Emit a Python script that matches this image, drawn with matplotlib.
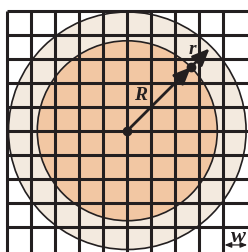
import numpy as np
import matplotlib.pyplot as plt
from matplotlib.patches import Circle

# geometry in grid-cell units (w = 1)
n_cells = 10
center = (5, 5)
R = 3.75
r = 1.2
angle = 45.0
labels = ['R', 'r', 'w']

ink = '#231f20'
outer_col = '#f3eadf'
inner_col = '#f2c7a3'

fig = plt.figure(figsize=(2.48, 2.52), dpi=100)
ax = fig.add_axes([0, 0, 1, 1])
ax.set_xlim(-0.304, 10.03)
ax.set_ylim(-0.054, 10.45)
ax.set_aspect('auto')
ax.axis('off')

ax.add_patch(Circle(center, R + r, facecolor=outer_col, edgecolor=ink, lw=1.2, zorder=1))
ax.add_patch(Circle(center, R, facecolor=inner_col, edgecolor=ink, lw=1.2, zorder=2))

# grid lines
for k in range(n_cells):
    ax.plot([k, k], [-1, n_cells], color=ink, lw=2.2, zorder=3, solid_capstyle='butt')
for k in range(1, n_cells + 1):
    ax.plot([0, n_cells + 1], [k, k], color=ink, lw=2.2, zorder=3, solid_capstyle='butt')

t = np.deg2rad(angle)
p_in = (center[0] + R * np.cos(t), center[1] + R * np.sin(t))
p_out = (center[0] + (R + r - 0.1) * np.cos(t), center[1] + (R + r - 0.1) * np.sin(t))

arrow_kw = dict(arrowstyle='-|>,head_length=0.65,head_width=0.28', color=ink, lw=2.0,
                shrinkA=0, shrinkB=0, mutation_scale=16)
ax.annotate('', xy=p_in, xytext=center, arrowprops=arrow_kw, zorder=5)
ax.annotate('', xy=p_out, xytext=p_in, arrowprops=arrow_kw, zorder=5)
ax.plot(*center, 'o', color=ink, ms=6, zorder=6)
ax.plot(*p_in, 'o', color=ink, ms=6, zorder=6)

font = dict(family='Liberation Serif', style='italic', weight='bold', fontsize=14, color=ink)
ax.text(5.57, 6.49, labels[0], ha='center', va='center', zorder=7, **font)
ax.text(7.7, 8.4, labels[1], ha='center', va='center', zorder=7, **font)
ax.text(9.62, 0.58, labels[2], ha='center', va='center', zorder=7,
        **{**font, 'fontsize': 16})

ax.annotate('', xy=(10.0, 0.24), xytext=(9.05, 0.24),
            arrowprops=dict(arrowstyle='<|-|>,head_length=0.5,head_width=0.2', color=ink,
                            lw=0.9, shrinkA=0, shrinkB=0, mutation_scale=8), zorder=7)

fig.savefig('out.png', dpi=100)
